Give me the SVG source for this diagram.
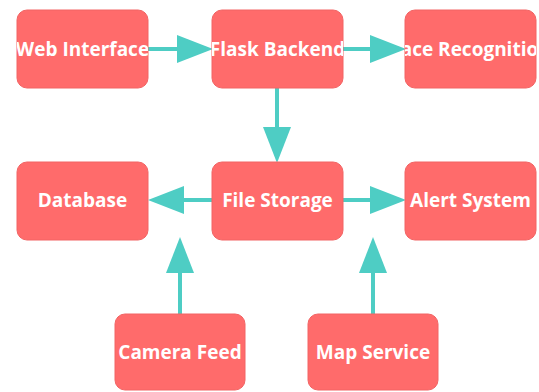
<svg xmlns="http://www.w3.org/2000/svg" width="539" height="392" viewBox="0 0 539 392">
<style>
.box{fill:#FF6B6B;stroke:#F26464;stroke-width:1}
.lbl{font-family:"Open Sans","Liberation Sans",sans-serif;font-weight:bold;font-size:19px;fill:#FFFFFF;text-anchor:middle;dominant-baseline:central}
.edge{stroke:#4ECDC4;stroke-width:4;fill:none;marker-end:url(#ah)}
</style>
<defs>
<marker id="ah" markerUnits="userSpaceOnUse" markerWidth="36" markerHeight="28" refX="0" refY="14" orient="auto" overflow="visible">
<path d="M0,0 L36,14 L0,28 Z" fill="#4ECDC4"/>
</marker>
<clipPath id="c1"><rect x="17" y="10" width="131" height="78" rx="10"/></clipPath>
<clipPath id="c2"><rect x="212" y="10" width="131" height="78" rx="10"/></clipPath>
<clipPath id="c3"><rect x="405" y="10" width="131" height="78" rx="10"/></clipPath>
</defs>
<rect width="539" height="392" fill="#FFFFFF"/>
<g id="connectors">
<line class="edge" x1="148" y1="49" x2="177" y2="49"/>
<line class="edge" x1="343" y1="49" x2="370" y2="49"/>
<line class="edge" x1="277" y1="88" x2="277" y2="127"/>
<line class="edge" x1="212" y1="200" x2="184" y2="200"/>
<line class="edge" x1="343" y1="200" x2="370" y2="200"/>
<line class="edge" x1="180" y1="314" x2="180" y2="273"/>
<line class="edge" x1="373" y1="314" x2="373" y2="273"/>
</g>
<g id="web-interface">
<rect class="box" x="17" y="10" width="131" height="78" rx="10"/>
<text class="lbl" x="82.5" y="49" clip-path="url(#c1)">Web Interface</text>
</g>
<g id="flask-backend">
<rect class="box" x="212" y="10" width="131" height="78" rx="10"/>
<text class="lbl" x="277.5" y="49" clip-path="url(#c2)">Flask Backend</text>
</g>
<g id="face-recognition">
<rect class="box" x="405" y="10" width="131" height="78" rx="10"/>
<text class="lbl" x="470.5" y="49" clip-path="url(#c3)">Face Recognition</text>
</g>
<g id="database">
<rect class="box" x="17" y="162" width="131" height="78" rx="10"/>
<text class="lbl" x="82.5" y="200">Database</text>
</g>
<g id="file-storage">
<rect class="box" x="212" y="162" width="131" height="78" rx="10"/>
<text class="lbl" x="277.5" y="200">File Storage</text>
</g>
<g id="alert-system">
<rect class="box" x="405" y="162" width="131" height="78" rx="10"/>
<text class="lbl" x="470.5" y="200">Alert System</text>
</g>
<g id="camera-feed">
<rect class="box" x="115" y="314" width="130" height="76" rx="10"/>
<text class="lbl" x="180" y="352">Camera Feed</text>
</g>
<g id="map-service">
<rect class="box" x="308" y="314" width="130" height="76" rx="10"/>
<text class="lbl" x="373" y="352">Map Service</text>
</g>
</svg>
